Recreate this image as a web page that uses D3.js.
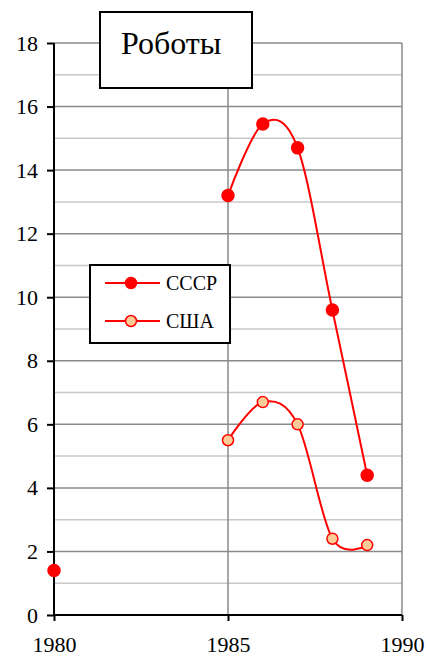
<!DOCTYPE html>
<html>
<head>
<meta charset="utf-8">
<script src="https://cdn.jsdelivr.net/npm/d3@7"></script>
<style>
  body { margin: 0; background: #fff; }
</style>
</head>
<body>
<div id="chart"></div>
<script>
// Data
const years = [1980, 1981, 1982, 1983, 1984, 1985, 1986, 1987, 1988, 1989];
const ussr = [1.4, null, null, null, null, 13.2, 15.45, 14.7, 9.6, 4.4];
const usa = [null, null, null, null, null, 5.5, 6.7, 6.0, 2.4, 2.2];
const seriesNames = ["СССР", "США"];
const xTicks = [1980, 1985, 1990];
const yTicks = [0, 2, 4, 6, 8, 10, 12, 14, 16, 18];
const title = "Роботы";

const FONT = "'Liberation Serif', 'Times New Roman', serif";
const W = 429, H = 657;
const svg = d3.select("#chart").append("svg")
    .attr("width", W)
    .attr("height", H);

// Scales
const x = d3.scaleLinear().domain([1980, 1990]).range([54, 402]);
const y = d3.scaleLinear().domain([0, 18]).range([615, 43]);

// Gridlines (minor on odd values, major on even)
const grid = svg.append("g");
d3.range(1, 18, 2).forEach(v => {
    grid.append("line")
        .attr("x1", x(1980)).attr("x2", x(1990))
        .attr("y1", y(v)).attr("y2", y(v))
        .style("stroke", "#c8c8c8")
        .style("stroke-width", 1.5);
});
yTicks.filter(v => v > 0).forEach(v => {
    grid.append("line")
        .attr("x1", x(1980)).attr("x2", x(1990))
        .attr("y1", y(v)).attr("y2", y(v))
        .style("stroke", "#8a8a8a")
        .style("stroke-width", 1.5);
});
xTicks.filter(v => v > 1980).forEach(v => {
    grid.append("line")
        .attr("x1", x(v)).attr("x2", x(v))
        .attr("y1", y(0)).attr("y2", y(18))
        .style("stroke", "#8a8a8a")
        .style("stroke-width", 1.5);
});

// Axes
const yAxis = svg.append("g")
    .attr("transform", `translate(${x(1980)},0)`)
    .call(d3.axisLeft(y).tickValues(yTicks).tickSize(7).tickPadding(9));
const xAxis = svg.append("g")
    .attr("transform", `translate(0,${y(0)})`)
    .call(d3.axisBottom(x).tickValues(xTicks).tickFormat(d3.format("d")).tickSize(6).tickPadding(15));

[yAxis, xAxis].forEach(a => {
    a.attr("font-family", null).attr("font-size", null);
    a.select(".domain").attr("stroke", "#000").attr("stroke-width", 2);
    a.selectAll(".tick line").attr("stroke", "#000").attr("stroke-width", 2);
    a.selectAll(".tick text")
        .style("font-family", FONT)
        .style("font-size", "22px")
        .attr("fill", "#000");
});
yAxis.select(".domain").attr("d", `M0,${y(18)}V${y(0)}`);
xAxis.select(".domain").attr("d", `M${x(1980)},0H${x(1990)}`);

// Lines
const rows = [ussr, usa];
const fills = ["#ff0000", "#ffcc99"];
const line = d3.line()
    .defined(d => d.v !== null)
    .x(d => x(d.year))
    .y(d => y(d.v))
    .curve(d3.curveCatmullRom.alpha(0));

rows.forEach((vals, i) => {
    const pts = years.map((yr, j) => ({ year: yr, v: vals[j] }));
    svg.append("path")
        .datum(pts)
        .attr("d", line)
        .style("fill", "none")
        .style("stroke", "#ff0000")
        .style("stroke-width", 2);
    svg.selectAll(null)
        .data(pts.filter(d => d.v !== null))
        .join("circle")
        .attr("cx", d => x(d.year))
        .attr("cy", d => y(d.v))
        .attr("r", i === 0 ? 6 : 5.5)
        .style("fill", fills[i])
        .style("stroke", "#ff0000")
        .style("stroke-width", 1.5);
});

// Title box
svg.append("rect")
    .attr("x", 100).attr("y", 12)
    .attr("width", 152).attr("height", 76)
    .style("fill", "#fff")
    .style("stroke", "#000")
    .style("stroke-width", 2);
svg.append("text")
    .attr("x", 121).attr("y", 54)
    .style("font-family", FONT)
    .style("font-size", "32px")
    .text(title);

// Legend
const legend = svg.append("g");
legend.append("rect")
    .attr("x", 90).attr("y", 265)
    .attr("width", 140).attr("height", 78)
    .style("fill", "#fff")
    .style("stroke", "#000")
    .style("stroke-width", 2);
seriesNames.forEach((name, i) => {
    const ly = 283 + i * 38;
    legend.append("line")
        .attr("x1", 105).attr("x2", 160)
        .attr("y1", ly).attr("y2", ly)
        .style("stroke", "#ff0000")
        .style("stroke-width", 2);
    legend.append("circle")
        .attr("cx", 131).attr("cy", ly)
        .attr("r", 5.5)
        .style("fill", fills[i])
        .style("stroke", "#ff0000")
        .style("stroke-width", 1.5);
    legend.append("text")
        .attr("x", 166).attr("y", ly)
        .attr("dy", "0.35em")
        .style("font-family", FONT)
        .style("font-size", "20px")
        .text(name);
});
</script>
</body>
</html>
